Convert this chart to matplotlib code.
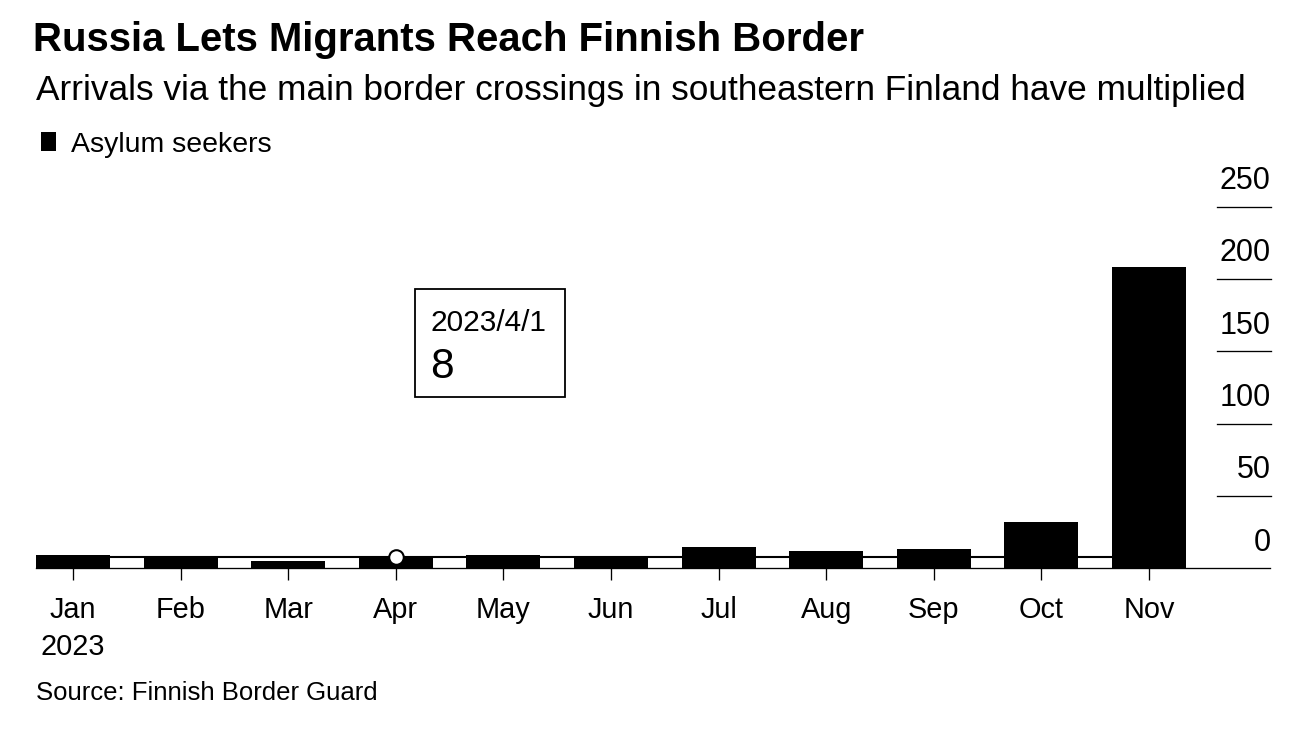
import matplotlib
matplotlib.use("Agg")
import matplotlib.pyplot as plt
from matplotlib.patches import Rectangle
from matplotlib.transforms import offset_copy

# ---- data ----
months = ["Jan\n2023", "Feb", "Mar", "Apr", "May", "Jun", "Jul", "Aug", "Sep", "Oct", "Nov"]
asylum_seekers = [9, 7, 5, 8, 9, 7, 15, 12, 13, 32, 208]
y_ticks = [0, 50, 100, 150, 200, 250]
y_tick_labels = ["0", "50", "100", "150", "200", "250"]
hover_index = 3
hover_date = "2023/4/1"
series_name = "Asylum seekers"
title = "Russia Lets Migrants Reach Finnish Border"
subtitle = "Arrivals via the main border crossings in southeastern Finland have multiplied"
source = "Source: Finnish Border Guard"

W, H = 1304, 744
plt.rcParams["font.family"] = ["Liberation Sans", "DejaVu Sans"]

fig = plt.figure(figsize=(W / 100, H / 100), dpi=100)
fig.patch.set_facecolor("white")

def fx(px):
    return px / W

def fy(px_from_top):
    return 1 - px_from_top / H

ax = fig.add_axes([fx(36), fy(568.3), fx(1270) - fx(36), fy(206.7) - fy(568.3)])
ax.set_facecolor("white")

x = list(range(len(months)))
bars = ax.bar(x, asylum_seekers, width=0.688, color="black", label=series_name, zorder=2)

ax.set_xlim(-0.344, 11.124)
ax.set_ylim(0, 250)

for s in ["top", "left", "right"]:
    ax.spines[s].set_visible(False)
ax.spines["bottom"].set_linewidth(0.95)
ax.spines["bottom"].set_zorder(3)

ax.set_xticks(x)
ax.set_xticklabels(months, fontsize=20.8)
ax.tick_params(axis="x", length=8.3, width=0.95, pad=11.5, color="black")
for lbl in ax.get_xticklabels():
    lbl.set_linespacing(1.42)
ax.set_yticks([])

# right-side short gridlines and labels above them
for v, lab in zip(y_ticks, y_tick_labels):
    if v > 0:
        ax.axhline(v, xmin=0.9568, xmax=1.001, color="black", lw=0.95, clip_on=False, zorder=1)
    tr = offset_copy(ax.get_yaxis_transform(), fig=fig, x=0.5, y=17.7, units="dots")
    ax.text(1.0, v, lab, transform=tr, ha="right", va="baseline", fontsize=22, color="black")

# hover crosshair and marker
hv = asylum_seekers[hover_index]
ax.hlines(hv, -0.344, len(months) - 1 + 0.344, color="black", lw=1.5, zorder=3)
ax.plot([hover_index], [hv], marker="o", markersize=10.5, markerfacecolor="white",
        markeredgecolor="black", markeredgewidth=1.5, zorder=5, clip_on=False)

# tooltip box (offset from hovered point)
px, py = ax.transData.transform((hover_index, hv))
box = Rectangle((px + 19, py + 160), 150, 107.7, transform=None,
                facecolor="white", edgecolor="black", lw=1.3, zorder=6)
fig.patches.append(box)
fig.text((px + 34.7) / W, (py + 226) / H, hover_date, fontsize=21.5, ha="left", va="baseline", zorder=7)
fig.text((px + 34.7) / W, (py + 178.7) / H, str(hv), fontsize=30.5, ha="left", va="baseline", zorder=7)

# titles
fig.text(fx(33), fy(50.7), title, fontsize=28.9, fontweight="bold", ha="left", va="baseline")
fig.text(fx(36), fy(100), subtitle, fontsize=25.35, ha="left", va="baseline")

leg = ax.legend(handles=[bars], labels=[series_name], loc="upper left",
                bbox_to_anchor=(fx(40.5), fy(131.5)), bbox_transform=fig.transFigure,
                frameon=False, fontsize=20.5, borderpad=0, borderaxespad=0,
                handlelength=0.54, handleheight=0.62, handletextpad=0.53)

fig.text(fx(35.5), fy(700), source, fontsize=18.5, ha="left", va="baseline")

fig.savefig("out.png", dpi=100, facecolor="white")
